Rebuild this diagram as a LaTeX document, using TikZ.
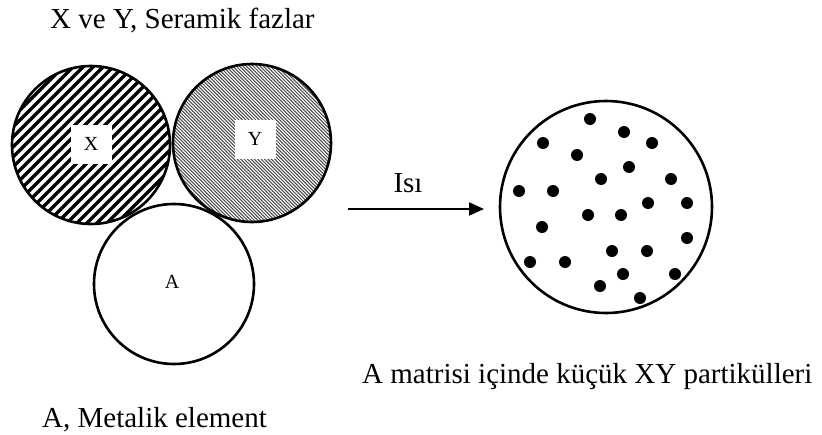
\documentclass[tikz,border=0pt]{standalone}
\usepackage{fontspec}
\setmainfont{Liberation Serif}
\usetikzlibrary{arrows.meta}
\begin{document}
\begin{tikzpicture}[x=1pt,y=-1pt,
  ring/.style={line width=2.6pt},
  biglabel/.style={font=\fontsize{29}{34}\selectfont, inner sep=0pt},
  smalllabel/.style={font=\fontsize{20}{24}\selectfont, fill=white, minimum width=41pt, minimum height=39pt, inner sep=0pt},
  particle/.style={fill=black, circle, inner sep=0pt, minimum size=12pt}]
\useasboundingbox (0,0) rectangle (822,434);
% circle X
\begin{scope}
  \clip (91,145) circle (79);
  \foreach \k in {-200,-190,...,200} {
    \draw[line width=3.5pt] (\k,300) -- ++(300,-300);
  }
\end{scope}
\draw[ring] (91,145) circle (79);
% circle Y
\begin{scope}
  \clip (252,143) circle (79);
  \foreach \k in {0,3.4,...,500} {
    \draw[line width=1pt, black!70] (\k,0) -- ++(-250,-250);
  }
  \foreach \k in {0,3.4,...,500} {
    \draw[line width=1pt, black!70] (\k,0) -- ++(250,250);
  }
\end{scope}
\draw[ring] (252,143) circle (79);
% circle A
\draw[ring, fill=white] (174,284) circle (80);
\node[smalllabel] (lx) at (91,144) {X};
\node[smalllabel] (ly) at (255,139) {Y};
\node[font=\fontsize{20}{24}\selectfont, inner sep=0pt] (la) at (172,282) {A};
% arrow
\coordinate (as) at (348,209);
\coordinate (ae) at (484,209);
\draw[line width=2pt, -{Triangle[length=15pt,width=13pt]}] (as) -- (ae);
\node[biglabel, anchor=base] (isi) at (408,192) {Isı};
% right circle
\draw[ring] (606,207) circle (106);
\foreach \p in {(590,119),(624,132),(543,143),(652,143),(577,155),(629,167),(601,179),(671,179),(519,191),(553,191),(648,203),(687,203),(588,215),(621,215),(542,227),(687,238),(612,251),(647,251),(530,262),(565,262),(623,274),(675,274),(600,286),(640,298)}
  \node[particle] at \p {};
% texts
\node[biglabel, anchor=base west] (t1) at (50,28) {X ve Y, Seramik fazlar};
\node[biglabel, anchor=base west] (t2) at (362,383) {A matrisi içinde küçük XY partikülleri};
\node[biglabel, anchor=base west] (t3) at (42,427) {A, Metalik element};
\end{tikzpicture}
\end{document}
